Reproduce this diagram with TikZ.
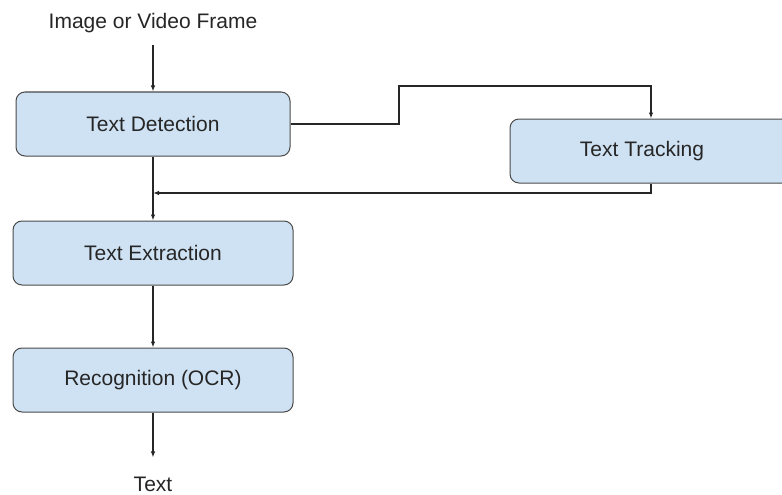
\documentclass[tikz,border=0pt]{standalone}
\usepackage{fontspec}
\setmainfont{Liberation Sans}
\usetikzlibrary{arrows.meta}
\definecolor{boxfill}{HTML}{CFE2F3}
\definecolor{boxline}{HTML}{4A4A4A}
\definecolor{lineclr}{HTML}{262626}
\begin{document}
\begin{tikzpicture}[x=1pt,y=-1pt,
  lbl/.style={font=\fontsize{21}{25}\selectfont, text=black!85},
  box/.style={draw=boxline, fill=boxfill, rounded corners=9pt, line width=1pt,
              inner sep=0pt, minimum height=64pt, lbl},
  conn/.style={draw=lineclr, line width=1.1pt},
  arr/.style={conn, -{Latex[length=6pt,width=4.5pt]}}]
\useasboundingbox (0,0) rectangle (782,495);
\fill[white] (0,0) rectangle (782,495);
\node[lbl, inner sep=0pt] (src) at (153,23) {Image or Video Frame};
\node[box, minimum width=274pt] (det) at (153,124) {Text Detection};
\node[box, minimum width=282pt, label={[lbl, xshift=-9pt]center:Text Tracking}] (trk) at (651,151) {};
\node[box, minimum width=280pt] (ext) at (153,253) {Text Extraction};
\node[box, minimum width=280pt] (rec) at (153,380) {Recognition (OCR)};
\node[lbl, inner sep=0pt] (out) at (153,484) {Text};
\coordinate (k1) at (399,86);
\coordinate (m) at (153,193);
\draw[arr, shorten <=12pt] (src.south -| det.north) -- (det.north);
\draw[arr] (det.east) -| (k1) -| (trk.north);
\draw[arr] (trk.south) |- (m);
\draw[arr] (det.south) -- (ext.north);
\draw[arr] (ext.south) -- (rec.north);
\draw[arr, shorten >=19pt] (rec.south) -- (out.north);
\end{tikzpicture}
\end{document}
